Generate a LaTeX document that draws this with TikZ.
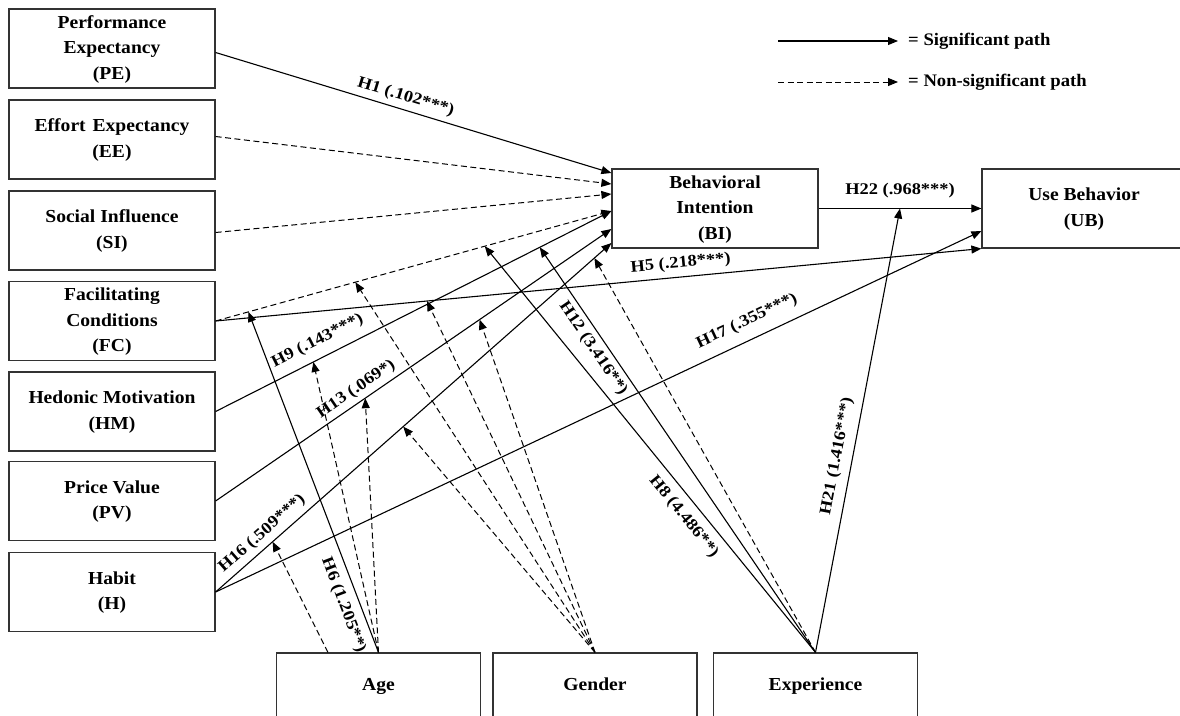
\documentclass[tikz,border=0pt]{standalone}
\usepackage{fontspec}
\setmainfont{Liberation Serif}
\usepackage{graphicx}
\usetikzlibrary{arrows.meta,calc}
\newcommand\wt[1]{\scalebox{1.07}[1]{\begin{tabular}{@{}c@{}}#1\end{tabular}}}
\newcommand\wl[1]{\scalebox{1.13}[1]{#1}}
\tikzset{
  box/.style={draw=black!80, line width=1.2pt, minimum width=206pt, minimum height=79pt,
    inner sep=0pt, font=\fontsize{18.3}{25.5}\selectfont\bfseries},
  modbox/.style={box, minimum width=204pt, minimum height=64pt},
  sig/.style={line width=1.1pt, -{Triangle[length=10pt,width=8pt]}},
  nsig/.style={line width=1pt, dash pattern=on 6pt off 3.5pt, -{Triangle[length=10pt,width=8pt]}},
  lab/.style={sloped, font=\fontsize{16.3}{19}\selectfont\bfseries, inner xsep=1pt, inner ysep=#1},
  lab/.default=4pt,
  legtext/.style={font=\fontsize{17.6}{20}\selectfont\bfseries, inner sep=0pt, anchor=west},
}
\begin{document}
\begin{tikzpicture}[x=1pt,y=-1pt]
\useasboundingbox (0,0) rectangle (1180,715);
\clip (0,0) rectangle (1180,715);
\fill[white] (0,0) rectangle (1180,715);

% construct boxes
\node[box] (PE) at (112,48.5) {\wt{Performance\\Expectancy\\(PE)}};
\node[box] (EE) at (112,139.5) {\wt{Effort\hspace{0.35em}Expectancy\\(EE)}};
\node[box] (SI) at (112,230.5) {\wt{Social Influence\\(SI)}};
\node[box] (FC) at (112,321) {\wt{Facilitating\\Conditions\\(FC)}};
\node[box] (HM) at (112,411.5) {\wt{Hedonic Motivation\\(HM)}};
\node[box] (PV) at (112,501) {\wt{Price Value\\(PV)}};
\node[box] (H) at (112,592) {\wt{Habit\\(H)}};
\node[box] (BI) at (715,208.5) {\wt{Behavioral\\Intention\\(BI)}};
\node[box, minimum width=204pt] (UB) at (1084,208.5) {\wt{Use Behavior\\(UB)}};
\node[modbox] (Age) at (378.5,685) {\wt{Age}};
\node[modbox] (Gender) at (595,685) {\wt{Gender}};
\node[modbox] (Exp) at (815.5,685) {\wt{Experience}};

% entry points on BI
\coordinate (b1) at ($(BI.west)+(0,-35.5)$);
\coordinate (b2) at ($(BI.west)+(0,-24.5)$);
\coordinate (b3) at ($(BI.west)+(0,-14.5)$);
\coordinate (b4) at ($(BI.west)+(0,2.5)$);
\coordinate (b5) at ($(BI.west)+(0,20.5)$);
\coordinate (b6) at ($(BI.west)+(0,34.5)$);
\coordinate (u2) at ($(UB.west)+(0,22.5)$);

% main paths
\draw[sig] ($(PE.east)+(0,4)$) -- node[lab=5pt, above, pos=0.471] {\wl{H1 (.102***)}} (b1);
\draw[nsig] ($(EE.east)+(0,-3)$) -- (b2);
\draw[nsig] ($(SI.east)+(0,2)$) -- (b3);
\draw[nsig] (FC.east) -- coordinate[pos=0.083] (fcA) coordinate[pos=0.353] (fcB)
  coordinate[pos=0.68] (fcC) (b4);
\draw[sig] (FC.east) -- coordinate[pos=0.276] (h5A)
  node[lab=5.5pt, above, pos=0.609] {\wl{H5 (.218***)}} (UB.south west);
\draw[sig] (HM.east) -- coordinate[pos=0.247] (hmA) coordinate[pos=0.819] (hmB)
  node[lab=9pt, above, pos=0.277] {\wl{H9 (.143***)}} (b4);
\draw[sig] (PV.east) -- coordinate[pos=0.378] (pvA) coordinate[pos=0.667] (pvB)
  node[lab=4.5pt, above, pos=0.373] {\wl{H13 (.069*)}} (b5);
\draw[sig] (H.east) -- coordinate[pos=0.144] (hbA) coordinate[pos=0.474] (hbB)
  coordinate[pos=0.957] (hbC)
  node[lab=5pt, above, pos=0.139] {\wl{H16 (.509***)}} (b6);
\draw[sig] (H.east) -- node[lab=10.5pt, above, pos=0.704] {\wl{H17 (.355***)}} (u2);
\draw[sig] (BI.east) -- coordinate[pos=0.5] (bu)
  node[lab=9.5pt, above, pos=0.5] {\wl{H22 (.968***)}} (UB.west);

% moderators: age
\draw[nsig] ($(Age.north)+(-50.5,0)$) -- (hbA);
\draw[sig] (Age.north) -- node[lab=8pt, below, pos=0.155] {\wl{H6 (1.205**)}} (fcA);
\draw[nsig] (Age.north) -- (hmA);
\draw[nsig] (Age.north) -- (pvA);

% moderators: gender
\draw[nsig] (Gender.north) -- (fcB);
\draw[nsig] (Gender.north) -- (h5A);
\draw[nsig] (Gender.north) -- (pvB);
\draw[nsig] (Gender.north) -- (hbB);

% moderators: experience
\draw[sig] (Exp.north) -- node[lab=8.5pt, below, pos=0.36] {\wl{H8 (4.486**)}} (fcC);
\draw[sig] (Exp.north) -- node[lab=5pt, below, pos=0.768] {\wl{H12 (3.416**)}} (hmB);
\draw[nsig] (Exp.north) -- (hbC);
\draw[sig] (Exp.north) -- node[lab=7.5pt, above, pos=0.435] {\wl{H21 (1.416***)}} (bu);

% legend
\node[legtext] (L1) at (908,41) {\scalebox{1.06}[1]{= Significant path}};
\node[legtext] (L2) at (908,82) {\scalebox{1.06}[1]{= Non-significant path}};
\coordinate (ls1) at (778,41);
\coordinate (ls2) at (778,82);
\draw[sig] (ls1) -- ($(L1.west)+(-10,0)$);
\draw[nsig] (ls2) -- ($(L2.west)+(-10,0)$);
\end{tikzpicture}
\end{document}
